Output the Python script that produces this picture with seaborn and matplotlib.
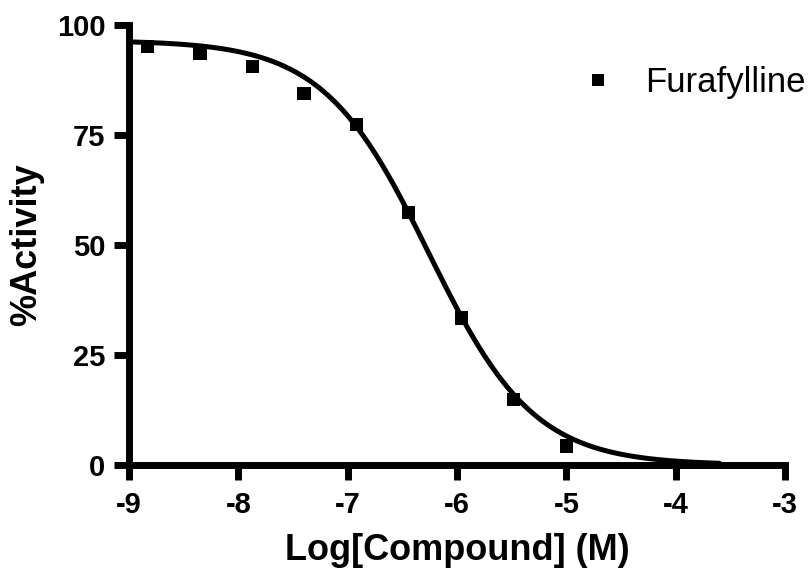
import numpy as np
import pandas as pd
import matplotlib
matplotlib.use("Agg")
import matplotlib.pyplot as plt
import seaborn as sns

# Data
log_conc = [-8.83, -8.35, -7.87, -7.40, -6.92, -6.44, -5.96, -5.48, -5.00]
activity = [95.2, 93.6, 90.6, 84.5, 77.3, 57.3, 33.4, 14.8, 4.3]
series_name = "Furafylline"

# Four-parameter logistic fit parameters
fit_top = 96.5
fit_bottom = 0.0
fit_log_ic50 = -6.26
fit_hill = -0.9
curve_range = (-9.0, -3.6)

x_ticks = [-9, -8, -7, -6, -5, -4, -3]
y_ticks = [0, 25, 50, 75, 100]

sns.set_style("ticks")
plt.rcParams["font.family"] = ["Liberation Sans", "DejaVu Sans"]
plt.rcParams["text.color"] = "black"
plt.rcParams["axes.labelcolor"] = "black"
plt.rcParams["xtick.color"] = "black"
plt.rcParams["ytick.color"] = "black"

fig = plt.figure(figsize=(8.1, 5.69), dpi=100)
ax = fig.add_axes([129 / 810, 1 - 465 / 569, (785 - 129) / 810, (465 - 25) / 569])

xc = np.linspace(curve_range[0], curve_range[1], 400)
yc = fit_bottom + (fit_top - fit_bottom) / (1 + 10 ** ((fit_log_ic50 - xc) * fit_hill))
curve_df = pd.DataFrame({"x": xc, "y": yc})
pts_df = pd.DataFrame({"x": log_conc, "y": activity, "series": series_name})

sns.lineplot(data=curve_df, x="x", y="y", ax=ax, color="black", linewidth=3.6,
             legend=False, clip_on=False, zorder=3)
sns.scatterplot(data=pts_df, x="x", y="y", hue="series", palette=["black"],
                marker="s", s=90, edgecolor="black", linewidth=0, ax=ax,
                zorder=4, clip_on=False)

ax.set_xlim(-9, -3)
ax.set_ylim(0, 100)
ax.set_xticks(x_ticks)
ax.set_yticks(y_ticks)
ax.set_xticklabels([str(t) for t in x_ticks], fontsize=21, fontweight="bold", color="black")
ax.set_yticklabels([str(t) for t in y_ticks], fontsize=21, fontweight="bold", color="black")
ax.tick_params(axis="both", direction="out", length=11, width=5, color="black")
ax.tick_params(axis="y", pad=6)
ax.tick_params(axis="x", pad=8)

for side in ["top", "right"]:
    ax.spines[side].set_visible(False)
for side in ["left", "bottom"]:
    ax.spines[side].set_linewidth(5)
    ax.spines[side].set_color("black")
    ax.spines[side].set_capstyle("projecting")

ax.set_xlabel("Log[Compound] (M)", fontsize=26, fontweight="bold", labelpad=10, color="black")
ax.set_ylabel("%Activity", fontsize=26, fontweight="bold", labelpad=9, color="black")

leg = ax.legend(loc="center left", bbox_to_anchor=(0.683, 0.87), frameon=False,
                fontsize=25, handletextpad=0.75, handlelength=1.2,
                markerscale=1.0, borderaxespad=0, borderpad=0)
for t in leg.get_texts():
    t.set_color("black")
for h in leg.legend_handles:
    if hasattr(h, "set_markersize"):
        h.set_markersize(9)

fig.savefig("out.png", dpi=100, facecolor="white")
